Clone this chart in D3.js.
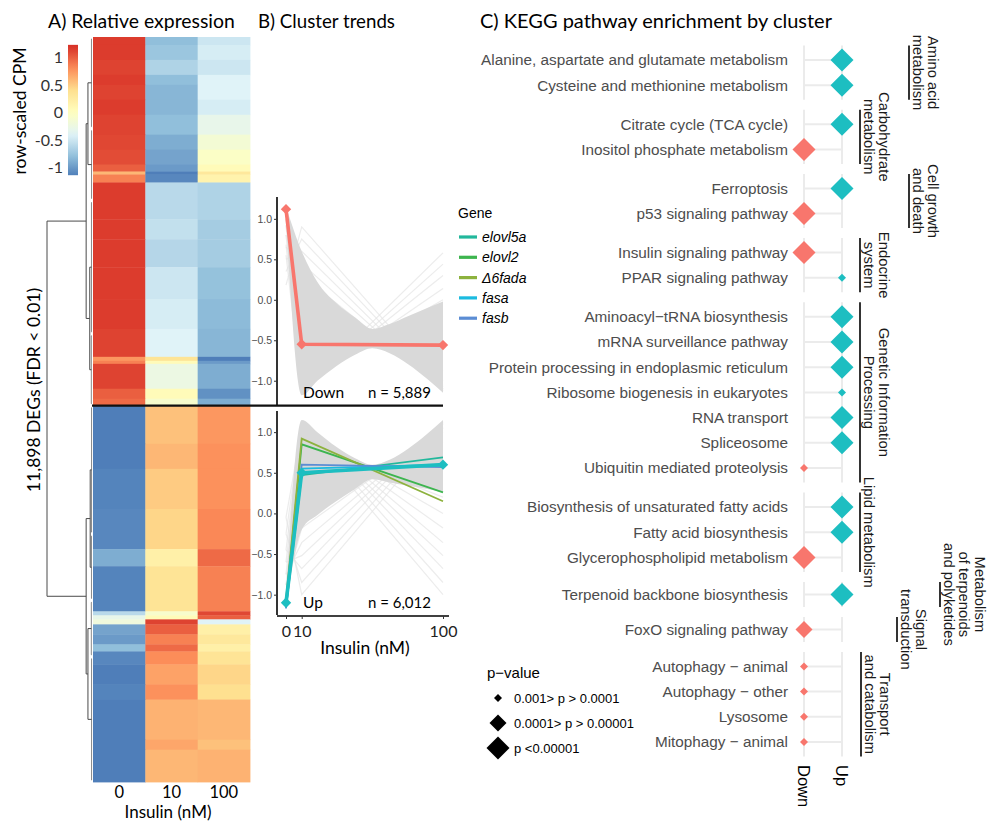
<!DOCTYPE html>
<html>
<head>
<meta charset="utf-8">
<script src="https://cdn.jsdelivr.net/npm/d3@7"></script>
<style>
  body { margin: 0; background: #fff; }
  svg { display: block; }
</style>
</head>
<body>
<svg id="fig" width="990" height="825"></svg>
<script>
// ---------------- data ----------------
const doses = [0, 10, 100];
const doseLabels = ["0", "10", "100"];
const clusterNames = ["Down", "Up"];
const clusterSizes = [5889, 6012];

// heatmap row blocks: [number of genes, z at 0 nM, z at 10 nM, z at 100 nM]
const heatDown = [
  [127, 1.15, -0.80, -0.50], [239, 1.15, -0.75, -0.45], [239, 1.12, -0.65, -0.50],
  [159, 1.15, -0.80, -0.40], [239, 1.12, -0.85, -0.40], [239, 1.15, -0.85, -0.45],
  [318, 1.12, -0.80, -0.30], [239, 1.10, -0.90, -0.15], [239, 1.08, -0.95, -0.05],
  [111, 1.00, -1.00, 0.05], [48, 0.60, -1.15, 0.30], [127, 0.85, -1.10, 0.15],
  [589, 1.15, -0.60, -0.65], [318, 1.15, -0.55, -0.70], [446, 1.15, -0.62, -0.70],
  [509, 1.15, -0.50, -0.78], [477, 1.15, -0.45, -0.82], [446, 1.12, -0.40, -0.85],
  [64, 0.75, 0.35, -1.15], [48, 0.85, 0.05, -1.00], [398, 1.12, -0.25, -0.90],
  [159, 1.00, 0.05, -1.05], [111, 0.95, -0.10, -0.90]
];
const heatUp = [
  [609, -1.15, 0.55, 0.75], [401, -1.15, 0.60, 0.78], [641, -1.12, 0.50, 0.78],
  [641, -1.10, 0.45, 0.82], [273, -0.90, 0.20, 0.95], [721, -1.12, 0.35, 0.85],
  [64, -0.60, -0.10, 1.10], [64, -0.30, 0.05, 1.00], [80, -0.20, 1.12, -0.40],
  [160, -0.95, 1.00, 0.20], [160, -1.00, 0.85, 0.30], [112, -0.80, 0.95, 0.20],
  [208, -1.10, 0.80, 0.35], [321, -1.15, 0.70, 0.45], [240, -1.12, 0.78, 0.40],
  [641, -1.15, 0.62, 0.60], [160, -1.15, 0.68, 0.55], [516, -1.15, 0.60, 0.62]
];
const colorbarTicks = [1, 0.5, 0, -0.5, -1];

// row dendrogram: leaf groups [first gene, last gene, height], merges [child, child, height]
const dendroLeaves = [
  [0, 1464, 0.012], [1464, 2612, 0.01], [2612, 4742, 0.012], [4742, 5889, 0.015],
  [5889, 7941, 0.01], [7941, 9000, 0.012], [9000, 9900, 0.015], [9900, 11901, 0.01]
];
const dendroMerges = [
  [0, 1, 0.09], [2, 3, 0.05], [4, 5, 0.04], [6, 7, 0.09],
  [8, 9, 0.13], [10, 11, 0.13], [12, 13, 1.0]
];

// cluster trends (row-scaled CPM at 0, 10, 100 nM)
const meanDown = [1.12, -0.55, -0.56];
const meanUp = [-1.10, 0.50, 0.60];
const bandX = [0, 10, 20, 32, 44, 55, 66, 78, 90, 100];
const downBandHi = [1.15, 0.60, 0.22, -0.04, -0.22, -0.36, -0.30, -0.20, -0.10, -0.02];
const downBandLo = [1.02, -1.18, -1.00, -0.82, -0.68, -0.60, -0.66, -0.80, -0.98, -1.15];
const upBandHi = [-1.02, 1.15, 1.00, 0.82, 0.68, 0.60, 0.66, 0.80, 0.98, 1.15];
const upBandLo = [-1.15, -0.20, -0.02, 0.15, 0.30, 0.42, 0.38, 0.34, 0.30, 0.26];
const faintDown = [
  [0.18, 0.90, -1.08], [0.35, 0.75, -1.10], [0.50, 0.60, -1.12], [0.65, 0.45, -1.12],
  [0.80, 0.30, -1.10], [0.92, 0.14, -1.06], [1.00, 0.00, -1.00], [1.08, -0.20, -0.88],
  [0.55, -1.13, 0.58], [0.68, -1.12, 0.44], [0.80, -1.10, 0.30], [0.92, -1.06, 0.14],
  [1.00, -1.00, 0.00], [1.08, -0.88, -0.20], [1.12, -0.70, -0.42], [1.12, -0.42, -0.70]
];
const faintUp = [
  [-0.05, -1.00, 1.05], [-0.25, -0.85, 1.10], [-0.45, -0.68, 1.13], [-0.60, -0.52, 1.12],
  [-0.75, -0.36, 1.11], [-0.88, -0.18, 1.06], [-1.00, 0.00, 1.00], [-1.08, 0.20, 0.88],
  [-0.05, 1.05, -1.00], [-0.25, 1.10, -0.85], [-0.45, 1.13, -0.68], [-0.60, 1.12, -0.52],
  [-0.75, 1.11, -0.36], [-0.88, 1.06, -0.18], [-1.00, 1.00, 0.00], [-1.08, 0.88, 0.20]
];
const geneNames = ["elovl5a", "elovl2", "Δ6fada", "fasa", "fasb"];
const geneProfiles = [
  [-1.16, 0.47, 0.69], [-1.11, 0.85, 0.26], [-1.07, 0.92, 0.15],
  [-1.15, 0.55, 0.60], [-1.17, 0.60, 0.57]
];
const trendTicks = [-1, -0.5, 0, 0.5, 1];

// KEGG enrichment
const keggCategories = [
  ["Amino acid", "metabolism"], ["Carbohydrate", "metabolism"], ["Cell growth", "and death"],
  ["Endocrine", "system"], ["Genetic Information", "Processing"], ["Lipid metabolism"],
  ["Metabolism", "of terpenoids", "and polyketides"], ["Signal", "transduction"],
  ["Transport", "and catabolism"]
];
const pathways = [
  "Alanine, aspartate and glutamate metabolism", "Cysteine and methionine metabolism",
  "Citrate cycle (TCA cycle)", "Inositol phosphate metabolism",
  "Ferroptosis", "p53 signaling pathway",
  "Insulin signaling pathway", "PPAR signaling pathway",
  "Aminoacyl−tRNA biosynthesis", "mRNA surveillance pathway",
  "Protein processing in endoplasmic reticulum", "Ribosome biogenesis in eukaryotes",
  "RNA transport", "Spliceosome", "Ubiquitin mediated proteolysis",
  "Biosynthesis of unsaturated fatty acids", "Fatty acid biosynthesis",
  "Glycerophospholipid metabolism",
  "Terpenoid backbone biosynthesis",
  "FoxO signaling pathway",
  "Autophagy − animal", "Autophagy − other", "Lysosome", "Mitophagy − animal"
];
const pathwayCategory = [0, 0, 1, 1, 2, 2, 3, 3, 4, 4, 4, 4, 4, 4, 4, 5, 5, 5, 6, 7, 8, 8, 8, 8];
const pathwayCluster = [
  "Up", "Up", "Up", "Down", "Up", "Down", "Down", "Up",
  "Up", "Up", "Up", "Up", "Up", "Up", "Down",
  "Up", "Up", "Down", "Up", "Down", "Down", "Down", "Down", "Down"
];
// 1: 0.001 > p > 0.0001, 2: 0.0001 > p > 0.00001, 3: p < 0.00001
const pathwayPClass = [3, 3, 3, 3, 3, 3, 3, 1, 3, 3, 3, 1, 3, 3, 1, 3, 3, 3, 3, 2, 1, 1, 1, 1];
const pClassLabels = ["0.001> p > 0.0001", "0.0001> p > 0.00001", "p <0.00001"];

// ---------------- styles ----------------
const FONT_A = "'Liberation Sans', Arial, Helvetica, sans-serif";
const FONT_T = "Lato, 'Open Sans', sans-serif";
const clusterColor = d3.scaleOrdinal().domain(clusterNames).range(["#F8766D", "#1DBEC1"]);
const geneColor = d3.scaleOrdinal().domain(geneNames)
  .range(["#22B89C", "#3DB54F", "#8DB23E", "#1BBBE0", "#5B8DD4"]);
const heatColor = d3.scaleLinear()
  .domain([-1.2, -0.8, -0.4, 0, 0.4, 0.8, 1.2])
  .range(["#4575B4", "#91BFDB", "#E0F3F8", "#FFFFBF", "#FEE090", "#FC8D59", "#D73027"])
  .clamp(true);

const svg = d3.select("#fig");

function txt(g, x, y, s, size, opts = {}) {
  return g.append("text")
    .attr("x", x).attr("y", y)
    .attr("font-family", opts.family || FONT_T)
    .attr("font-size", size)
    .attr("fill", opts.fill || "#000")
    .attr("text-anchor", opts.anchor || "start")
    .attr("font-style", opts.style || null)
    .attr("transform", opts.rotate != null ? `rotate(${opts.rotate},${x},${y})` : null)
    .text(s);
}

// ---------------- titles ----------------
txt(svg, 48, 28, "A) Relative expression", 19.4);
txt(svg, 258, 28, "B) Cluster trends", 18.7);
txt(svg, 480, 28, "C) KEGG pathway enrichment by cluster", 20);

// ---------------- A: heatmap ----------------
const gA = svg.append("g");
const heatBlocks = heatDown.concat(heatUp);
const blockStart = [0, ...d3.cumsum(heatBlocks, d => d[0])];
const totalGenes = blockStart[blockStart.length - 1];
const yHeat = d3.scaleLinear().domain([0, totalGenes]).range([37, 782]);
const xHeat = d3.scaleBand().domain(doseLabels).range([93, 250]);

heatBlocks.forEach((b, i) => {
  doseLabels.forEach((lab, j) => {
    const y0 = yHeat(blockStart[i]), y1 = yHeat(blockStart[i + 1]);
    gA.append("rect")
      .attr("x", xHeat(lab)).attr("y", y0)
      .attr("width", xHeat.bandwidth() + 0.4).attr("height", y1 - y0 + 0.4)
      .attr("fill", heatColor(b[j + 1]));
  });
});

doseLabels.forEach(lab => {
  txt(gA, xHeat(lab) + xHeat.bandwidth() / 2, 798, lab, 16.5, { anchor: "middle" });
});
txt(gA, 168, 818, "Insulin (nM)", 17, { anchor: "middle" });

// colour key
const yKey = d3.scaleLinear().domain([-1, 1]).range([167.5, 57.5]);
const defs = svg.append("defs");
const grad = defs.append("linearGradient").attr("id", "keyGrad")
  .attr("x1", 0).attr("y1", 1).attr("x2", 0).attr("y2", 0);
const keyLo = -1.14, keyHi = 1.23;
d3.range(0, 1.0001, 0.05).forEach(t => {
  grad.append("stop").attr("offset", t)
    .attr("stop-color", heatColor(keyLo + t * (keyHi - keyLo)));
});
gA.append("rect").attr("x", 68).attr("y", yKey(keyHi))
  .attr("width", 10).attr("height", yKey(keyLo) - yKey(keyHi))
  .attr("fill", "url(#keyGrad)");
colorbarTicks.forEach(v => {
  txt(gA, 63, yKey(v) + 5.5, String(v), 16, { anchor: "end", fill: "#333" });
});
txt(gA, 26, 111, "row-scaled CPM", 17.5, { anchor: "middle", rotate: -90 });
txt(gA, 40, 390, "11,898 DEGs (FDR < 0.01)", 17.5, { anchor: "middle", rotate: -90 });

// dendrogram
const xDen = d3.scaleLinear().domain([0, 1]).range([92, 47]);
const nodes = dendroLeaves.map(l => ({ pos: (l[0] + l[1]) / 2, h: l[2], a: l[0], b: l[1] }));
dendroMerges.forEach(m => {
  nodes.push({ pos: (nodes[m[0]].pos + nodes[m[1]].pos) / 2, h: m[2], c: [m[0], m[1]] });
});
const gDen = gA.append("g").attr("fill", "none").attr("stroke", "#4a4a4a").attr("stroke-width", 1);
nodes.forEach(n => {
  if (n.c) {
    const c1 = nodes[n.c[0]], c2 = nodes[n.c[1]];
    gDen.append("path").attr("d",
      `M${xDen(c1.h)},${yHeat(c1.pos)}H${xDen(n.h)}V${yHeat(c2.pos)}H${xDen(c2.h)}`);
  } else {
    gDen.append("path").attr("d",
      `M${xDen(0)},${yHeat(n.a) + 2}H${xDen(n.h)}V${yHeat(n.b) - 2}H${xDen(0)}`)
      .attr("stroke", "#888");
  }
});

// ---------------- B: cluster trends ----------------
const gB = svg.append("g");
const xB = d3.scaleLinear().domain([0, 100]).range([286, 443]);
const facetsB = [
  { name: "Down", n: clusterSizes[0], y: d3.scaleLinear().domain([-1.3, 1.27]).range([405, 197]),
    mean: meanDown, hi: downBandHi, lo: downBandLo, faint: faintDown, genes: false },
  { name: "Up", n: clusterSizes[1], y: d3.scaleLinear().domain([-1.25, 1.26]).range([615, 411]),
    mean: meanUp, hi: upBandHi, lo: upBandLo, faint: faintUp, genes: true }
];
const diamond = r => d3.symbol().type(d3.symbolSquare).size(2 * r * r)();

facetsB.forEach((f, k) => {
  const [yb, yt] = f.y.range();
  const clipId = "clipB" + k;
  defs.append("clipPath").attr("id", clipId).append("rect")
    .attr("x", 278).attr("y", yt).attr("width", 171).attr("height", yb - yt);
  const g = gB.append("g");
  const gc = g.append("g").attr("clip-path", `url(#${clipId})`);

  const line = d3.line().x((d, i) => xB(doses[i])).y(d => f.y(d));
  f.faint.forEach(p => {
    gc.append("path").attr("d", line(p)).attr("fill", "none")
      .attr("stroke", "#E4E4E4").attr("stroke-opacity", 0.7).attr("stroke-width", 1.2);
  });
  const area = d3.area().x((d, i) => xB(bandX[i])).y0((d, i) => f.y(f.lo[i])).y1(d => f.y(d))
    .curve(d3.curveMonotoneX);
  gc.append("path").attr("d", area(f.hi)).attr("fill", "#D9D9D9");

  if (f.genes) {
    geneProfiles.forEach((p, i) => {
      gc.append("path").attr("d", line(p)).attr("fill", "none")
        .attr("stroke", geneColor(geneNames[i])).attr("stroke-width", 1.8);
    });
  }
  g.append("path").attr("d", line(f.mean)).attr("fill", "none")
    .attr("stroke", clusterColor(f.name)).attr("stroke-width", 3.6)
    .attr("stroke-linejoin", "round");
  f.mean.forEach((v, i) => {
    g.append("path").attr("d", diamond(5.2))
      .attr("transform", `translate(${xB(doses[i])},${f.y(v)}) rotate(45)`)
      .attr("fill", clusterColor(f.name));
  });

  const ax = g.append("g").attr("transform", "translate(277,0)")
    .call(d3.axisLeft(f.y).tickValues(trendTicks).tickFormat(d3.format(".1f"))
      .tickSize(3).tickSizeOuter(0));
  ax.select(".domain").attr("stroke", "#000").attr("stroke-width", 1.6)
    .attr("d", `M0,${yb}V${yt}`);
  ax.selectAll(".tick line").attr("stroke", "#333");
  ax.selectAll(".tick text").attr("font-family", FONT_A).attr("font-size", 10.5)
    .attr("fill", "#4D4D4D").attr("x", -5);

  txt(g, 303, yb - 7, f.name, 15.5);
  txt(g, 368, yb - 7, "n = " + d3.format(",")(f.n), 15);
});

// x axis under the lower panel
const axB = gB.append("g").attr("transform", "translate(0,616)")
  .call(d3.axisBottom(xB).tickValues(doses).tickFormat(d => d).tickSize(3).tickSizeOuter(0));
axB.select(".domain").attr("stroke", "#000").attr("stroke-width", 1.6).attr("d", "M277,0H449");
axB.selectAll(".tick text").attr("font-family", FONT_T).attr("font-size", 16)
  .attr("fill", "#222").attr("dy", "0.95em");
axB.selectAll(".tick line").attr("stroke", "#333");
txt(gB, 365, 654, "Insulin (nM)", 17.5, { anchor: "middle" });

// separator between clusters
svg.append("line").attr("x1", 92).attr("x2", 443)
  .attr("y1", yHeat(clusterSizes[0])).attr("y2", yHeat(clusterSizes[0]))
  .attr("stroke", "#111").attr("stroke-width", 2.2);

// gene legend
const gL = svg.append("g");
txt(gL, 458, 218, "Gene", 14, { family: FONT_A });
geneNames.forEach((gname, i) => {
  const y = 237 + i * 20.3;
  gL.append("line").attr("x1", 459).attr("x2", 477).attr("y1", y).attr("y2", y)
    .attr("stroke", geneColor(gname)).attr("stroke-width", 3.2);
  txt(gL, 482, y + 5, gname, 14, { family: FONT_A, style: "italic" });
});

// ---------------- C: KEGG enrichment ----------------
const gC = svg.append("g");
const xC = d3.scalePoint().domain(clusterNames).range([804, 842]);
const pRadius = d3.scaleOrdinal().domain([1, 2, 3]).range([4, 8.5, 11.5]);
const rowStep = 25.2, facetGap = 10;
const stripLineX = [909, 860, 909, 860, 860, 860, 940, 897, 861];
let cursor = 45.5;
const facetsC = keggCategories.map((cat, c) => {
  const idx = d3.range(pathways.length).filter(i => pathwayCategory[i] === c);
  const pad = idx.length > 1 ? 14.5 : 12.5;
  const h = (idx.length - 1) * rowStep + 2 * pad;
  const f = { c, idx, top: cursor, bottom: cursor + h,
    y: d3.scalePoint().domain(idx.map(i => pathways[i])).range([cursor + pad, cursor + h - pad]) };
  cursor += h + facetGap;
  return f;
});

facetsC.forEach(f => {
  const g = gC.append("g");
  clusterNames.forEach(cl => {
    g.append("line").attr("x1", xC(cl)).attr("x2", xC(cl)).attr("y1", f.top).attr("y2", f.bottom)
      .attr("stroke", "#EBEBEB").attr("stroke-width", 2);
  });
  f.idx.forEach(i => {
    const y = f.y(pathways[i]);
    g.append("line").attr("x1", xC.range()[0]).attr("x2", xC.range()[1]).attr("y1", y).attr("y2", y)
      .attr("stroke", "#EBEBEB").attr("stroke-width", 2);
    txt(g, 788, y + 5.3, pathways[i], 15.3, { family: FONT_A, anchor: "end", fill: "#4D4D4D" });
  });
  f.idx.forEach(i => {
    const y = f.y(pathways[i]);
    g.append("path").attr("d", diamond(pRadius(pathwayPClass[i])))
      .attr("transform", `translate(${xC(pathwayCluster[i])},${y}) rotate(45)`)
      .attr("fill", clusterColor(pathwayCluster[i]));
  });
  // strip label
  const lx = stripLineX[f.c];
  g.append("line").attr("x1", lx).attr("x2", lx).attr("y1", f.top).attr("y2", f.bottom)
    .attr("stroke", "#000").attr("stroke-width", 1.6);
  const lines = keggCategories[f.c];
  const cy = (f.top + f.bottom) / 2;
  lines.forEach((s, j) => {
    const bx = lx + 3.5 + (lines.length - 1 - j) * 15.5;
    txt(g, bx, cy, s, 14.8, { family: FONT_A, anchor: "middle", rotate: 90, fill: "#1a1a1a" });
  });
});

// cluster axis labels
clusterNames.forEach(cl => {
  txt(gC, xC(cl) - 6, 765, cl, 16.5, { family: FONT_A, rotate: 90 });
});

// p-value legend
const gP = svg.append("g");
txt(gP, 487, 678, "p−value", 15, { family: FONT_A });
pClassLabels.forEach((lab, i) => {
  const y = 698 + i * 25;
  gP.append("path").attr("d", diamond(pRadius(i + 1)))
    .attr("transform", `translate(498,${y}) rotate(45)`).attr("fill", "#000");
  txt(gP, 514, y + 4.6, lab, 13, { family: FONT_A });
});
</script>
</body>
</html>
